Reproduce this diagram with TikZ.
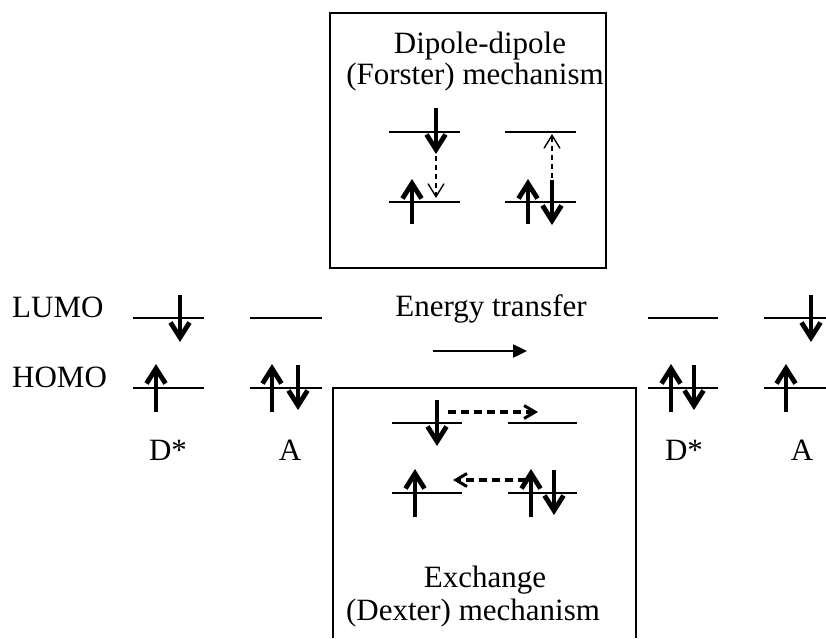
\documentclass[tikz,border=0pt]{standalone}
\usepackage{fontspec}
\setmainfont{Liberation Serif}
\usetikzlibrary{arrows.meta}
% spin arrows: x, start y, tip y (y grows downward)
\newcommand{\spinD}[3]{%
  \draw[stem] (#1,#2) -- (#1,#3-6);
  \draw[chev] (#1-9.5,#3-19.5) -- (#1,#3-4.5) -- (#1+9.5,#3-19.5);}
\newcommand{\spinU}[3]{%
  \draw[stem] (#1,#2) -- (#1,#3+6);
  \draw[chev] (#1-9.5,#3+19.5) -- (#1,#3+4.5) -- (#1+9.5,#3+19.5);}
\begin{document}
\begin{tikzpicture}[x=1pt,y=-1pt,
  txt/.style={font=\fontsize{31}{36}\selectfont, anchor=base, inner sep=0pt},
  lvl/.style={line width=1.9pt},
  stem/.style={line width=3.6pt, line cap=butt},
  chev/.style={line width=4.8pt, line cap=butt, line join=miter},
  thindash/.style={line width=1.5pt, dash pattern=on 5pt off 4pt, -{Straight Barb[length=13pt,width=16pt,line width=1.4pt]}},
  thickdash/.style={line width=3.2pt, dash pattern=on 8pt off 5pt, -{Straight Barb[length=11pt,width=13pt,line width=3pt]}},
  frame/.style={line width=1.6pt},
  bigarrow/.style={line width=2.4pt, -{Triangle[length=14pt,width=13pt]}}]
\useasboundingbox (0,0) rectangle (826,638);

% ---------- top box (Forster) ----------
\draw[frame] (330,13) rectangle (606,268);
\node[txt] (dd) at (480,53) {Dipole-dipole};
\node[txt] (fm) at (475,84) {(Forster) mechanism};
\draw[lvl] (389,132) -- (460,132);
\draw[lvl] (389,202) -- (460,202);
\draw[lvl] (505,132) -- (576,132);
\draw[lvl] (505,202) -- (576,202);
\spinD{436}{108}{154}
\spinU{412}{224}{179}
\spinU{528}{224}{179}
\spinD{552}{180}{225}
\coordinate (f1a) at (436,156); \coordinate (f1b) at (436,198);
\coordinate (f2a) at (552,178); \coordinate (f2b) at (552,134);
\draw[thindash] (f1a) -- (f1b);
\draw[thindash] (f2a) -- (f2b);

% ---------- main row ----------
\node[txt, anchor=base west] (lumo) at (12,317) {LUMO};
\node[txt, anchor=base west] (homo) at (12,387) {HOMO};
% D* left
\draw[lvl] (133,318) -- (204,318);
\draw[lvl] (133,388) -- (204,388);
\spinD{180}{295}{342}
\spinU{156}{412}{364}
% A left
\draw[lvl] (250,318) -- (322,318);
\draw[lvl] (250,388) -- (322,388);
\spinU{272}{412}{364}
\spinD{298}{365}{410}
\node[txt] (d1) at (168,460) {D*};
\node[txt] (a1) at (290,460) {A};
% D* right
\draw[lvl] (648,318) -- (718,318);
\draw[lvl] (648,388) -- (718,388);
\spinU{671}{412}{364}
\spinD{694}{365}{410}
% A right
\draw[lvl] (764,318) -- (826,318);
\draw[lvl] (764,388) -- (826,388);
\spinD{811}{295}{342}
\spinU{786}{412}{364}
\node[txt] (d2) at (684,460) {D*};
\node[txt] (a2) at (802,460) {A};

% energy transfer
\node[txt] (et) at (491,316) {Energy transfer};
\coordinate (eta) at (433,351); \coordinate (etb) at (527,351);
\draw[bigarrow] (eta) -- (etb);

% ---------- bottom box (Dexter) ----------
\draw[frame] (333,638) -- (333,388) -- (636,388) -- (636,638);
\draw[lvl] (392,423) -- (462,423);
\draw[lvl] (508,423) -- (577,423);
\draw[lvl] (392,493) -- (462,493);
\draw[lvl] (508,493) -- (577,493);
\spinD{437}{400}{446}
\spinU{415}{517}{469}
\spinU{531}{517}{469}
\spinD{554}{470}{515}
\coordinate (x1a) at (448,412); \coordinate (x1b) at (538,412);
\coordinate (x2a) at (526,480); \coordinate (x2b) at (453,480);
\draw[thickdash] (x1a) -- (x1b);
\draw[thickdash] (x2a) -- (x2b);
\node[txt] (ex) at (485,587) {Exchange};
\node[txt] (dm) at (473,620) {(Dexter) mechanism};
\end{tikzpicture}
\end{document}
